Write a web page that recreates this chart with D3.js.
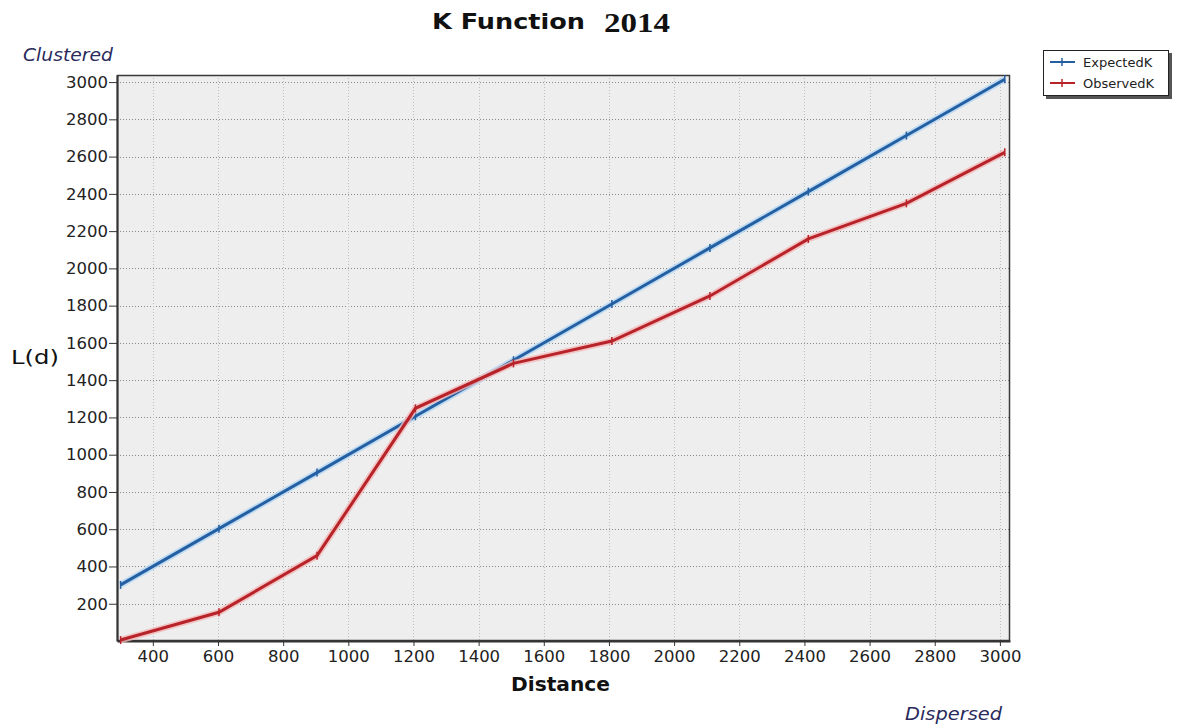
<!doctype html>
<html>
<head>
<meta charset="utf-8"/>
<title>K Function 2014</title>
<script src="https://cdnjs.cloudflare.com/ajax/libs/d3/7.8.5/d3.min.js"></script>
<style>
  body { margin: 0; background: #fff; }
  svg { display: block; }
  .axis text { font-family: "DejaVu Sans", sans-serif; font-size: 16.5px; fill: #222; }
  .axis path, .axis line { stroke: #333; }
</style>
</head>
<body>
<svg width="1177" height="728"></svg>
<script>
// distance bands and the two K curves
var distances = [301, 603, 904, 1206, 1507, 1809, 2110, 2412, 2713, 3015];
var expectedK = [301, 603, 904, 1206, 1507, 1809, 2110, 2412, 2713, 3015];
var observedK = [5, 154, 458, 1249, 1490, 1610, 1852, 2158, 2349, 2623];

var xTicks = [400, 600, 800, 1000, 1200, 1400, 1600, 1800, 2000, 2200, 2400, 2600, 2800, 3000];
var yTicks = [200, 400, 600, 800, 1000, 1200, 1400, 1600, 1800, 2000, 2200, 2400, 2600, 2800, 3000];

var seriesNames = ["ExpectedK", "ObservedK"];
var seriesColors = ["#245fa2", "#b8232a"];
var haloColors = ["#b3d6f2", "#f3b8b8"];

var pLeft = 117, pRight = 1010, pTop = 75, pBottom = 641;

var svg = d3.select("svg");

var xScale = d3.scaleLinear().domain([290, 3031]).range([pLeft, pRight]);
var yScale = d3.scaleLinear().domain([0, 3038]).range([pBottom, pTop]);

// plot background
svg.append("rect")
  .attr("x", pLeft).attr("y", pTop)
  .attr("width", pRight - pLeft).attr("height", pBottom - pTop)
  .attr("fill", "#eeeeee");

// grid
svg.append("g").selectAll("line")
  .data(yTicks).enter().append("line")
  .attr("x1", pLeft).attr("x2", pRight)
  .attr("y1", function(d){ return Math.round(yScale(d)) + 0.5; })
  .attr("y2", function(d){ return Math.round(yScale(d)) + 0.5; })
  .attr("stroke", "#8a8a8a").attr("stroke-dasharray", "1,2");

svg.append("g").selectAll("line")
  .data(xTicks).enter().append("line")
  .attr("y1", pTop).attr("y2", pBottom)
  .attr("x1", function(d){ return Math.round(xScale(d)) + 0.5; })
  .attr("x2", function(d){ return Math.round(xScale(d)) + 0.5; })
  .attr("stroke", "#bdbdbd").attr("stroke-dasharray", "1,2");

// frame
svg.append("rect")
  .attr("x", pLeft + 0.5).attr("y", pTop + 0.5)
  .attr("width", pRight - pLeft - 1).attr("height", pBottom - pTop - 1)
  .attr("fill", "none").attr("stroke", "#3a3a3a").attr("stroke-width", 1.5);

var xAxis = d3.axisBottom(xScale).tickValues(xTicks).tickSize(5).tickSizeOuter(0).tickPadding(4).tickFormat(d3.format("d"));
svg.append("g").attr("class", "axis")
  .attr("transform", "translate(0," + pBottom + ")")
  .call(xAxis)
  .call(function(g){ g.select(".domain").attr("stroke-width", 2); });

var yAxis = d3.axisLeft(yScale).tickValues(yTicks).tickSize(8).tickSizeOuter(0).tickPadding(1).tickFormat(d3.format("d"));
svg.append("g").attr("class", "axis")
  .attr("transform", "translate(" + pLeft + ",0)")
  .call(yAxis)
  .call(function(g){ g.select(".domain").attr("stroke-width", 2); });

// lines
var line = d3.line()
  .x(function(d){ return xScale(d[0]); })
  .y(function(d){ return yScale(d[1]); });

[expectedK, observedK].forEach(function(vals, i) {
  var pts = distances.map(function(d, j){ return [d, vals[j]]; });
  svg.append("path").datum(pts)
    .attr("d", line).attr("fill", "none")
    .attr("stroke", haloColors[i]).attr("stroke-width", 6.5).attr("stroke-opacity", 0.8);
  svg.append("path").datum(pts)
    .attr("d", line).attr("fill", "none")
    .attr("stroke", seriesColors[i]).attr("stroke-width", 3);
  svg.append("g").selectAll("path")
    .data(pts).enter().append("path")
    .attr("d", function(d){
      var x = xScale(d[0]), y = yScale(d[1]);
      return "M" + x + "," + (y - 4) + "V" + (y + 4);
    })
    .attr("stroke", seriesColors[i]).attr("stroke-width", 1.5);
});

// texts
svg.append("text").attr("x", 432).attr("y", 29)
  .attr("textLength", 153).attr("lengthAdjust", "spacingAndGlyphs")
  .style("font-family", "DejaVu Sans, sans-serif").style("font-weight", "bold").style("font-size", "21px")
  .attr("fill", "#111").text("K Function");
svg.append("text").attr("x", 604).attr("y", 32)
  .attr("textLength", 66).attr("lengthAdjust", "spacingAndGlyphs")
  .style("font-family", "Liberation Serif, serif").style("font-weight", "bold").style("font-size", "27px")
  .attr("fill", "#111").text("2014");

svg.append("text").attr("x", 23).attr("y", 61)
  .attr("textLength", 90).attr("lengthAdjust", "spacingAndGlyphs")
  .style("font-family", "DejaVu Sans, sans-serif").style("font-style", "italic").style("font-size", "17px")
  .attr("fill", "#2a2a5c").text("Clustered");
svg.append("text").attr("x", 905).attr("y", 720)
  .attr("textLength", 97).attr("lengthAdjust", "spacingAndGlyphs")
  .style("font-family", "DejaVu Sans, sans-serif").style("font-style", "italic").style("font-size", "17px")
  .attr("fill", "#2a2a5c").text("Dispersed");

svg.append("text").attr("x", 11).attr("y", 364)
  .attr("textLength", 48).attr("lengthAdjust", "spacingAndGlyphs")
  .style("font-family", "DejaVu Sans, sans-serif").style("font-size", "20px")
  .attr("fill", "#111").text("L(d)");
svg.append("text").attr("x", 511).attr("y", 691)
  .attr("textLength", 99).attr("lengthAdjust", "spacingAndGlyphs")
  .style("font-family", "DejaVu Sans, sans-serif").style("font-weight", "bold").style("font-size", "19px")
  .attr("fill", "#111").text("Distance");

// legend
var lg = svg.append("g");
lg.append("rect").attr("x", 1046).attr("y", 53).attr("width", 126).attr("height", 46).attr("fill", "#555");
lg.append("rect").attr("x", 1043.5).attr("y", 50.5).attr("width", 125).attr("height", 45)
  .attr("fill", "#fff").attr("stroke", "#222");
seriesNames.forEach(function(name, i) {
  var y = 62 + i * 21;
  lg.append("line").attr("x1", 1050).attr("x2", 1075).attr("y1", y).attr("y2", y)
    .attr("stroke", seriesColors[i]).attr("stroke-width", 2);
  lg.append("line").attr("x1", 1062).attr("x2", 1062).attr("y1", y - 4).attr("y2", y + 4)
    .attr("stroke", seriesColors[i]).attr("stroke-width", 1.5);
  lg.append("text").attr("x", 1083).attr("y", y + 5)
    .style("font-family", "DejaVu Sans, sans-serif").style("font-size", "13px")
    .attr("fill", "#222").text(name);
});
</script>
</body>
</html>
